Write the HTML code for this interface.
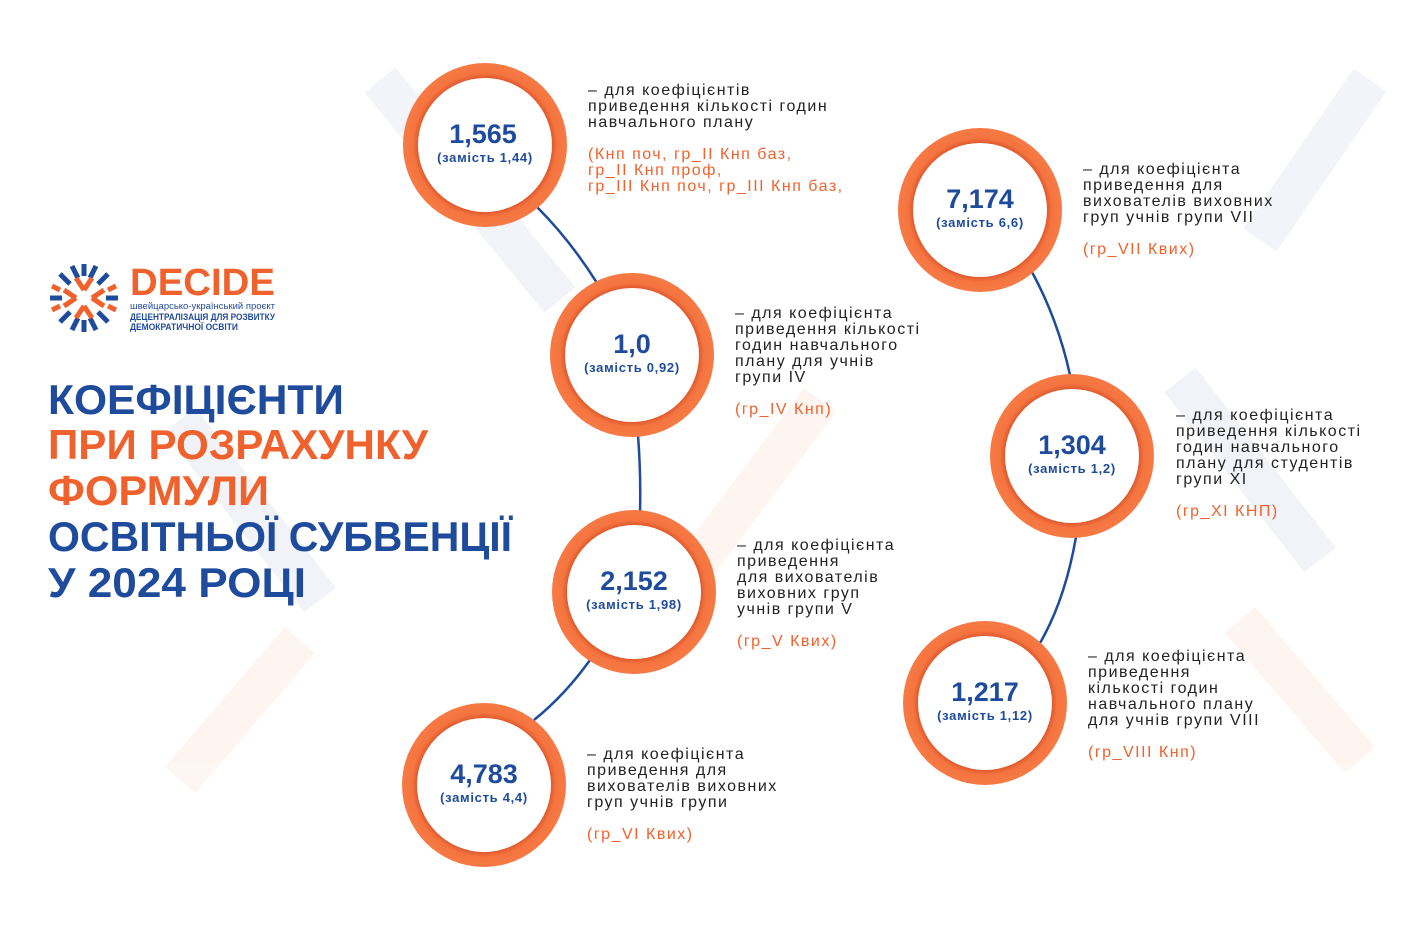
<!DOCTYPE html>
<html><head><meta charset="utf-8"><style>
html,body{margin:0;padding:0;background:#fff}
svg{display:block}
.d{font-family:"Liberation Sans",sans-serif;font-size:16px;letter-spacing:1.5px;fill:#222}
.o{font-family:"Liberation Sans",sans-serif;font-size:16px;letter-spacing:1.5px;fill:#f0622d}
.n{font-family:"Liberation Sans",sans-serif;font-weight:bold;font-size:27px;fill:#1f4b9c}
.s{font-family:"Liberation Sans",sans-serif;font-weight:bold;font-size:13px;letter-spacing:0.7px;fill:#1f4b9c}
.t{font-family:"Liberation Sans",sans-serif;font-weight:bold;font-size:42px}
</style></head><body>
<svg width="1410" height="929" viewBox="0 0 1410 929" xmlns="http://www.w3.org/2000/svg">
<defs>
<radialGradient id="ring" cx="50%" cy="50%" r="50%">
<stop offset="80%" stop-color="#d9532a"/><stop offset="88%" stop-color="#f5743f"/><stop offset="100%" stop-color="#f67a45"/>
</radialGradient>
<g id="c"><circle r="82" fill="url(#ring)"/><circle r="67" fill="#fff"/></g>
</defs>
<rect width="1410" height="929" fill="#fff"/>
<g opacity="0.06" stroke-width="40" fill="none">
<path d="M380 80 L560 300 M180 420 L320 600 M1180 380 L1320 560 M1370 80 L1260 240" stroke="#1f4b9c"/>
<path d="M300 640 L180 780 M820 400 L700 560 M1240 620 L1360 760" stroke="#f0622d"/>
</g>
<g stroke="#1f4b9c" stroke-width="2.5" fill="none">
<path d="M537 207 Q570 240 597 283"/>
<path d="M638 435 Q641 475 640 512"/>
<path d="M590 660 Q565 695 534 720"/>
<path d="M1032 272 Q1058 320 1070 375"/>
<path d="M1076 537 Q1065 600 1040 643"/>
</g>
<use href="#c" x="485" y="145"/><use href="#c" x="632" y="355"/><use href="#c" x="634" y="592"/><use href="#c" x="484" y="785"/>
<use href="#c" x="980" y="210"/><use href="#c" x="1072" y="456"/><use href="#c" x="985" y="703"/>
<g text-anchor="middle">
<text class="n" x="483" y="143">1,565</text><text class="s" x="485" y="162">(замість 1,44)</text>
<text class="n" x="632" y="353">1,0</text><text class="s" x="632" y="372">(замість 0,92)</text>
<text class="n" x="634" y="590">2,152</text><text class="s" x="634" y="609">(замість 1,98)</text>
<text class="n" x="484" y="783">4,783</text><text class="s" x="484" y="802">(замість 4,4)</text>
<text class="n" x="980" y="208">7,174</text><text class="s" x="980" y="227">(замість 6,6)</text>
<text class="n" x="1072" y="454">1,304</text><text class="s" x="1072" y="473">(замість 1,2)</text>
<text class="n" x="985" y="701">1,217</text><text class="s" x="985" y="720">(замість 1,12)</text>
</g>
<text class="d" x="588" y="95">– для коефіцієнтів</text>
<text class="d" x="588" y="111">приведення кількості годин</text>
<text class="d" x="588" y="127">навчального плану</text>
<text class="o" x="588" y="159">(Кнп поч, гр_ІІ Кнп баз,</text>
<text class="o" x="588" y="175">гр_ІІ Кнп проф,</text>
<text class="o" x="588" y="191">гр_ІІІ Кнп поч, гр_ІІІ Кнп баз,</text>

<text class="d" x="735" y="318">– для коефіцієнта</text>
<text class="d" x="735" y="334">приведення кількості</text>
<text class="d" x="735" y="350">годин навчального</text>
<text class="d" x="735" y="366">плану для учнів</text>
<text class="d" x="735" y="382">групи IV</text>
<text class="o" x="735" y="414">(гр_IV Кнп)</text>

<text class="d" x="737" y="550">– для коефіцієнта</text>
<text class="d" x="737" y="566">приведення</text>
<text class="d" x="737" y="582">для вихователів</text>
<text class="d" x="737" y="598">виховних груп</text>
<text class="d" x="737" y="614">учнів групи V</text>
<text class="o" x="737" y="646">(гр_V Квих)</text>

<text class="d" x="587" y="759">– для коефіцієнта</text>
<text class="d" x="587" y="775">приведення для</text>
<text class="d" x="587" y="791">вихователів виховних</text>
<text class="d" x="587" y="807">груп учнів групи</text>
<text class="o" x="587" y="839">(гр_VI Квих)</text>

<text class="d" x="1083" y="174">– для коефіцієнта</text>
<text class="d" x="1083" y="190">приведення для</text>
<text class="d" x="1083" y="206">вихователів виховних</text>
<text class="d" x="1083" y="222">груп учнів групи VII</text>
<text class="o" x="1083" y="254">(гр_VII Квих)</text>

<text class="d" x="1176" y="420">– для коефіцієнта</text>
<text class="d" x="1176" y="436">приведення кількості</text>
<text class="d" x="1176" y="452">годин навчального</text>
<text class="d" x="1176" y="468">плану для студентів</text>
<text class="d" x="1176" y="484">групи XI</text>
<text class="o" x="1176" y="516">(гр_XI КНП)</text>

<text class="d" x="1088" y="661">– для коефіцієнта</text>
<text class="d" x="1088" y="677">приведення</text>
<text class="d" x="1088" y="693">кількості годин</text>
<text class="d" x="1088" y="709">навчального плану</text>
<text class="d" x="1088" y="725">для учнів групи VIII</text>
<text class="o" x="1088" y="757">(гр_VIII Кнп)</text>

<g transform="translate(84,298)">
<g stroke-width="5" stroke-linecap="butt">
<g stroke="#1f4b9c">
<line x1="0" y1="-34" x2="0" y2="-22"/><line x1="0" y1="34" x2="0" y2="22"/>
<line x1="-34" y1="0" x2="-22" y2="0"/><line x1="34" y1="0" x2="22" y2="0"/>
<line x1="-24" y1="-24" x2="-14" y2="-14"/><line x1="24" y1="-24" x2="14" y2="-14"/>
<line x1="-24" y1="24" x2="-14" y2="14"/><line x1="24" y1="24" x2="14" y2="14"/>
<line x1="-12" y1="-32" x2="-6" y2="-20"/><line x1="12" y1="-32" x2="6" y2="-20"/>
<line x1="-12" y1="32" x2="-6" y2="20"/><line x1="12" y1="32" x2="6" y2="20"/>
</g>
<g stroke="#f0622d">
<line x1="-20" y1="-8" x2="-8" y2="0"/><line x1="-20" y1="8" x2="-8" y2="0"/>
<line x1="20" y1="-8" x2="8" y2="0"/><line x1="20" y1="8" x2="8" y2="0"/>
<line x1="-8" y1="-20" x2="0" y2="-8"/><line x1="8" y1="-20" x2="0" y2="-8"/>
<line x1="-8" y1="20" x2="0" y2="8"/><line x1="8" y1="20" x2="0" y2="8"/>
<line x1="-32" y1="-12" x2="-24" y2="-8"/><line x1="32" y1="12" x2="24" y2="8"/>
<line x1="-32" y1="12" x2="-24" y2="8"/><line x1="32" y1="-12" x2="24" y2="-8"/>
</g>
</g>
</g>
<text x="130" y="295" font-family="Liberation Sans,sans-serif" font-weight="bold" font-size="38" fill="#f0622d" textLength="145" lengthAdjust="spacingAndGlyphs">DECIDE</text>
<text x="130" y="309" font-family="Liberation Sans,sans-serif" font-size="9" fill="#1f4b9c" textLength="145" lengthAdjust="spacingAndGlyphs">швейцарсько-український проєкт</text>
<text x="130" y="320" font-family="Liberation Sans,sans-serif" font-weight="bold" font-size="9" fill="#1f4b9c" textLength="145" lengthAdjust="spacingAndGlyphs">ДЕЦЕНТРАЛІЗАЦІЯ ДЛЯ РОЗВИТКУ</text>
<text x="130" y="330" font-family="Liberation Sans,sans-serif" font-weight="bold" font-size="9" fill="#1f4b9c" textLength="108" lengthAdjust="spacingAndGlyphs">ДЕМОКРАТИЧНОЇ ОСВІТИ</text>

<text class="t" x="48" y="414" fill="#1f4b9c" textLength="296" lengthAdjust="spacingAndGlyphs">КОЕФІЦІЄНТИ</text>
<text class="t" x="48" y="459" fill="#f0622d" textLength="380" lengthAdjust="spacingAndGlyphs">ПРИ РОЗРАХУНКУ</text>
<text class="t" x="48" y="505" fill="#f0622d" textLength="221" lengthAdjust="spacingAndGlyphs">ФОРМУЛИ</text>
<text class="t" x="48" y="551" fill="#1f4b9c" textLength="464" lengthAdjust="spacingAndGlyphs">ОСВІТНЬОЇ СУБВЕНЦІЇ</text>
<text class="t" x="48" y="597" fill="#1f4b9c" textLength="258" lengthAdjust="spacingAndGlyphs">У 2024 РОЦІ</text>
</svg>
</body></html>
